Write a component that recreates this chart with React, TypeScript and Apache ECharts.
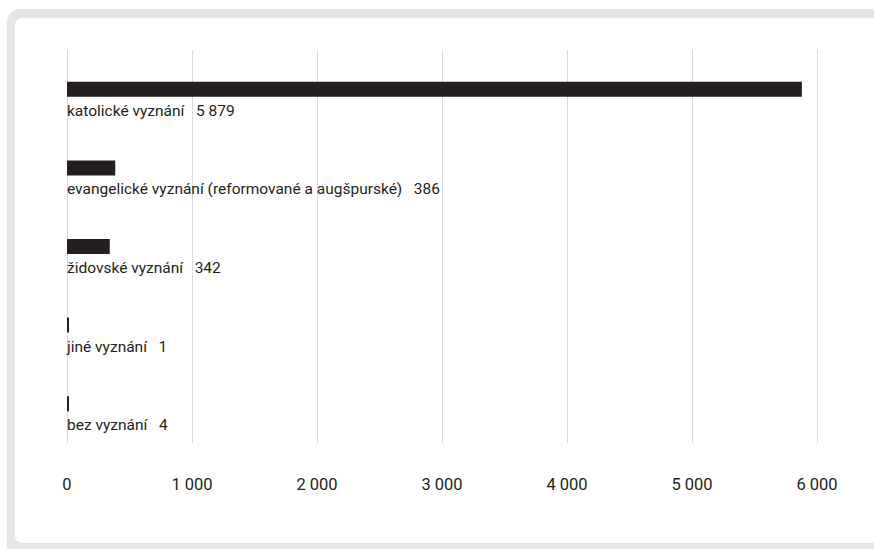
import React, { useEffect, useRef } from "react";
import * as echarts from "echarts";

const categories = [
  "katolické vyznání",
  "evangelické vyznání (reformované a augšpurské)",
  "židovské vyznání",
  "jiné vyznání",
  "bez vyznání",
];
const values = [5879, 386, 342, 1, 4];
const xTicks = [0, 1000, 2000, 3000, 4000, 5000, 6000];

const fmt = (v: number) => String(v).replace(/\B(?=(\d{3})+(?!\d))/g, " ");

export default function App() {
  const ref = useRef<HTMLDivElement>(null);
  useEffect(() => {
    if (!ref.current) return;
    const chart = echarts.init(ref.current, null, { renderer: "svg" });
    chart.setOption({
      animation: false,
      grid: { left: 67, right: 57, top: 50, bottom: 106, containLabel: false },
      xAxis: {
        type: "value",
        min: xTicks[0],
        max: xTicks[xTicks.length - 1],
        interval: 1000,
        axisLine: { show: false },
        axisTick: { show: false },
        splitLine: { show: true, lineStyle: { color: "#dadada", width: 1 } },
        axisLabel: {
          margin: 33,
          fontSize: 16.5,
          fontFamily: "Roboto",
          color: "#231f20",
          formatter: (v: number) => fmt(v),
        },
      },
      yAxis: {
        type: "category",
        data: categories,
        inverse: true,
        axisLine: { show: false },
        axisTick: { show: false },
        axisLabel: { show: false },
        splitLine: { show: false },
      },
      series: [
        {
          type: "bar",
          data: values,
          barWidth: 15,
          barMinHeight: 2,
          itemStyle: { color: "#231f20" },
          label: {
            show: true,
            position: [0, 29],
            align: "left",
            verticalAlign: "middle",
            fontSize: 15.5,
            fontFamily: "Roboto",
            color: "#231f20",
            formatter: (p: any) => p.name + "   " + fmt(p.value),
          },
        },
      ],
    });
    return () => chart.dispose();
  }, []);

  return (
    <div
      style={{
        position: "fixed",
        left: 0,
        top: 0,
        width: 874,
        height: 549,
        overflow: "hidden",
        background: "#ffffff",
      }}
    >
      <div
        style={{
          position: "absolute",
          left: 7,
          top: 9,
          width: 900,
          height: 600,
          background: "#e5e5e5",
          borderRadius: 13,
        }}
      />
      <div
        style={{
          position: "absolute",
          left: 15,
          top: 18,
          width: 900,
          height: 525,
          background: "#ffffff",
          borderRadius: 7,
        }}
      />
      <div
        ref={ref}
        style={{ position: "absolute", left: 0, top: 0, width: 874, height: 549 }}
      />
    </div>
  );
}
